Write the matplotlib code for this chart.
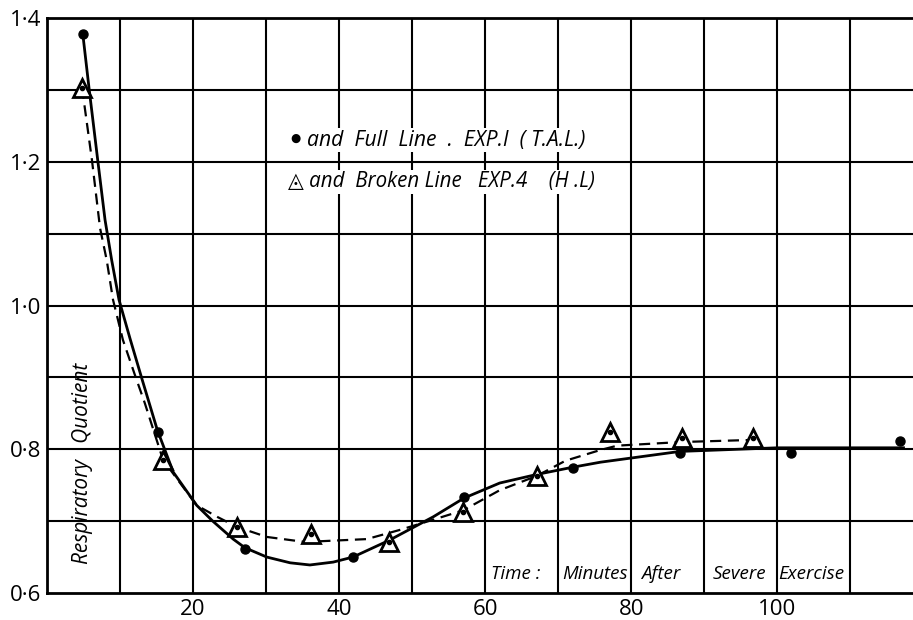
import matplotlib
matplotlib.use("Agg")
import matplotlib.pyplot as plt

# measured points (minutes after exercise, respiratory quotient)
full_x = [4.9, 15.2, 27.1, 41.9, 57.1, 72.0, 86.7, 101.9, 116.8]
full_y = [1.378, 0.824, 0.661, 0.650, 0.734, 0.774, 0.795, 0.795, 0.811]

tri_x = [4.8, 15.9, 26.0, 36.2, 46.8, 57.0, 67.1, 77.1, 87.0, 96.7]
tri_y = [1.303, 0.785, 0.692, 0.682, 0.671, 0.713, 0.763, 0.824, 0.816, 0.816]

# hand-drawn curves, vertices
full_curve_x = [4.9, 5.75, 6.95, 7.95, 8.86, 9.86, 11.37, 12.97, 15.1, 17.3,
                20.5, 22.7, 25.5, 27.1, 30.1, 33.3, 36.0, 39.2, 41.9, 46.8, 52.9,
                57.1, 62.0, 67.1, 72.0, 75.8, 86.7, 100.0, 117.3]
full_curve_y = [1.378, 1.303, 1.202, 1.119, 1.063, 1.008, 0.954, 0.899, 0.827, 0.768,
                0.722, 0.700, 0.675, 0.663, 0.650, 0.642, 0.639, 0.643, 0.650,
                0.673, 0.706, 0.732, 0.753, 0.765, 0.775, 0.782, 0.797, 0.802, 0.802]

broken_curve_x = [4.8, 6.16, 7.26, 8.18, 9.04, 10.4, 12.05, 13.4, 15.9, 20.5,
                  23.3, 26.0, 30.1, 35.3, 43.8, 48.4, 52.9, 57.0, 62.0, 67.1, 71.0,
                  75.8, 78.1, 86.7, 96.7]
broken_curve_y = [1.303, 1.202, 1.108, 1.063, 1.008, 0.952, 0.903, 0.864, 0.785,
                  0.722, 0.706, 0.692, 0.678, 0.671, 0.675, 0.688, 0.702, 0.715, 0.743,
                  0.763, 0.784, 0.799, 0.805, 0.810, 0.813]

xtick_vals = [20, 40, 60, 80, 100]
ytick_vals = [0.6, 0.8, 1.0, 1.2, 1.4]
ytick_labels = ["0·6", "0·8", "1·0", "1·2", "1·4"]
time_words = ["Time :", "Minutes", "After", "Severe", "Exercise"]
time_word_x = [60.8, 70.6, 81.4, 91.2, 100.2]

fam = ["Open Sans", "DejaVu Sans"]

fig = plt.figure(figsize=(9.13, 6.2), dpi=100)
ax = fig.add_axes([47 / 913, 27 / 620, 1 - 47 / 913, 575 / 620])
ax.set_xlim(0, 118.6)
ax.set_ylim(0.6, 1.4)

# the paper grid
for gx in range(10, 120, 10):
    ax.axvline(gx, color="black", lw=1.5, zorder=1)
for gy in [0.7, 0.8, 0.9, 1.0, 1.1, 1.2, 1.3]:
    ax.axhline(gy, color="black", lw=1.5, zorder=1)

for side in ["left", "bottom", "top"]:
    ax.spines[side].set_linewidth(2)
ax.spines["right"].set_visible(False)

ax.plot(full_curve_x, full_curve_y, color="black", lw=2.0, zorder=3)
ax.plot(broken_curve_x, broken_curve_y, color="black", lw=1.6,
        dashes=(5, 3), zorder=3)

ax.plot(full_x, full_y, "o", color="black", ms=6.5, zorder=4)
ax.plot(tri_x, tri_y, "^", mfc="white", mec="black", mew=2, ms=13, zorder=4)
ax.plot(tri_x, tri_y, "o", color="black", ms=3, zorder=5)

ax.set_xticks(xtick_vals)
ax.set_xticklabels([str(v) for v in xtick_vals])
ax.set_yticks(ytick_vals)
ax.set_yticklabels(ytick_labels)
ax.tick_params(length=0, labelsize=16, pad=4)
for lab in ax.get_xticklabels() + ax.get_yticklabels():
    lab.set_family(fam)

# key written on the chart
ax.text(34.0, 1.232, "●", fontsize=8.5, family=fam, ha="center", va="center",
        zorder=6)
ax.text(35.6, 1.23, "and  Full  Line  .  EXP.I  ( T.A.L.)", fontsize=15.2,
        style="italic", family=fam, va="center", ha="left", zorder=6,
        bbox=dict(facecolor="white", edgecolor="none", pad=1))
ax.text(33.0, 1.172, "◬ and  Broken Line   EXP.4    (H .L)", fontsize=14.8,
        style="italic", family=fam, va="center", ha="left", zorder=6,
        bbox=dict(facecolor="white", edgecolor="none", pad=1))

ax.text(4.9, 0.641, "Respiratory   Quotient", fontsize=15, style="italic",
        family=fam, rotation=90, ha="center", va="bottom", zorder=6)

for w, wx in zip(time_words, time_word_x):
    ax.text(wx, 0.626, w, fontsize=13.5, style="italic", family=fam,
            ha="left", va="center", zorder=6)

fig.savefig("out.png", dpi=100)
